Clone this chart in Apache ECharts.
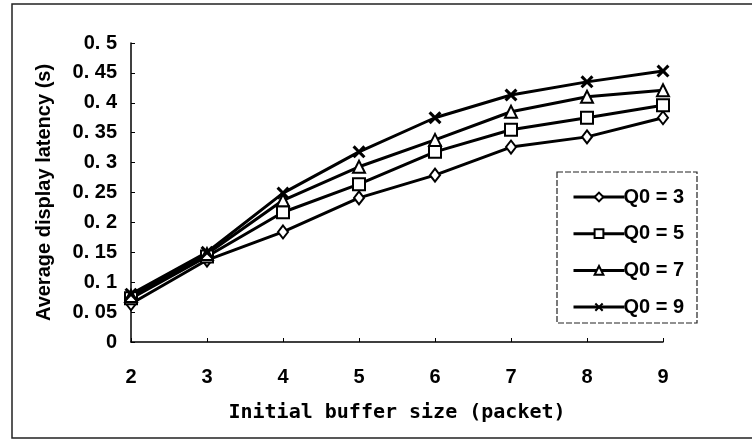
<!DOCTYPE html>
<html>
<head>
<meta charset="utf-8">
<script src="https://cdn.jsdelivr.net/npm/echarts@6/dist/echarts.min.js"></script>
<style>
html,body{margin:0;padding:0;background:#fff;}
#chart{width:752px;height:440px;}
</style>
</head>
<body>
<div id="chart"></div>
<script>
var xCategories = ['2','3','4','5','6','7','8','9'];
var yTickLabels = ['0','0. 05','0. 1','0. 15','0. 2','0. 25','0. 3','0. 35','0. 4','0. 45','0. 5'];
var seriesNames = ['Q0 = 3','Q0 = 5','Q0 = 7','Q0 = 9'];
var q3 = [0.064, 0.137, 0.184, 0.241, 0.279, 0.326, 0.343, 0.375];
var q5 = [0.073, 0.143, 0.217, 0.264, 0.318, 0.355, 0.375, 0.396];
var q7 = [0.077, 0.147, 0.237, 0.293, 0.338, 0.385, 0.410, 0.421];
var q9 = [0.080, 0.150, 0.249, 0.318, 0.375, 0.413, 0.435, 0.453];

var xSymbol = 'path://M0,2 L2,0 L6,4 L10,0 L12,2 L8,6 L12,10 L10,12 L6,8 L2,12 L0,10 L4,6 Z';

function mk(name, data, symbol, size, fill) {
  return {
    name: name, type: 'line', data: data,
    symbol: symbol, symbolSize: size, showAllSymbol: true,
    lineStyle: {color: '#000', width: 3},
    itemStyle: {color: fill, borderColor: '#000', borderWidth: fill === '#000' ? 0 : 2},
    emphasis: {disabled: true},
    z: 3
  };
}

var chart = echarts.init(document.getElementById('chart'), null, {renderer: 'canvas'});
chart.setOption({
  backgroundColor: '#fff',
  animation: false,
  graphic: [
    {type: 'rect', shape: {x: 12, y: 4, width: 760, height: 434}, style: {fill: 'none', stroke: '#222', lineWidth: 1.5}, z: 0},
    {type: 'rect', shape: {x: 557, y: 172, width: 140, height: 151}, style: {fill: '#fff', stroke: '#222', lineWidth: 1.2, lineDash: [6, 2]}, z: 10}
  ],
  grid: {left: 131, right: 89, top: 43, bottom: 98},
  legend: {
    data: seriesNames,
    orient: 'vertical',
    left: 567, top: 182,
    itemWidth: 51, itemHeight: 11, itemGap: 16.7,
    lineStyle: {width: 3, color: '#000'},
    textStyle: {fontFamily: 'Liberation Sans', fontWeight: 'bold', fontSize: 20, color: '#000', padding: [0,0,0,-6]},
    z: 20
  },
  xAxis: {
    type: 'category', data: xCategories, boundaryGap: false,
    name: 'Initial buffer size (packet)', nameLocation: 'middle', nameGap: 61,
    nameTextStyle: {fontFamily: 'DejaVu Sans Mono', fontWeight: 'bold', fontSize: 20, color: '#000'},
    axisLine: {lineStyle: {color: '#000', width: 1.5}},
    axisTick: {inside: true, length: 4, lineStyle: {color: '#000'}},
    axisLabel: {margin: 25, fontFamily: 'Liberation Sans', fontWeight: 'bold', fontSize: 20, color: '#000'},
    splitLine: {show: false}
  },
  yAxis: {
    type: 'value', min: 0, max: 0.5, interval: 0.05,
    name: 'Average display latency (s)', nameLocation: 'middle', nameGap: 77,
    nameTextStyle: {fontFamily: 'Liberation Sans', fontWeight: 'bold', fontSize: 20, color: '#000'},
    axisLine: {show: true, lineStyle: {color: '#000', width: 1.5}},
    axisTick: {show: true, inside: true, length: 4, lineStyle: {color: '#000'}},
    axisLabel: {margin: 14, fontFamily: 'Liberation Sans', fontWeight: 'bold', fontSize: 20, color: '#000',
      formatter: function (v, i) { return yTickLabels[Math.round(v / 0.05)]; }},
    splitLine: {show: false}
  },
  series: [
    mk(seriesNames[0], q3, 'diamond', [10, 13], '#fff'),
    mk(seriesNames[1], q5, 'rect', 12, '#fff'),
    mk(seriesNames[2], q7, 'triangle', 12, '#fff'),
    mk(seriesNames[3], q9, xSymbol, 13, '#000')
  ]
});
</script>
</body>
</html>
